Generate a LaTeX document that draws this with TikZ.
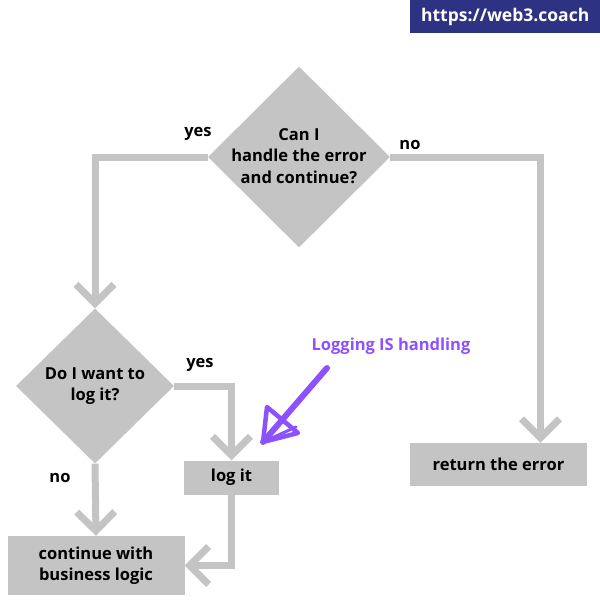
\documentclass[tikz,border=0pt]{standalone}
\usepackage{fontspec}
\setmainfont{Open Sans}
\usetikzlibrary{shapes.geometric,arrows.meta}
\definecolor{flowgray}{RGB}{196,196,196}
\definecolor{bannerblue}{RGB}{45,50,130}
\definecolor{notepurple}{RGB}{140,82,255}
\begin{document}
\begin{tikzpicture}[x=1pt,y=-1pt,
  every node/.style={font=\fontsize{16.5}{21.5}\selectfont\bfseries, text=black},
  decision/.style={diamond, fill=flowgray, inner sep=0pt},
  stepbox/.style={rectangle, fill=flowgray, inner sep=0pt, align=center},
  flow/.style={draw=flowgray, line width=7pt, line join=miter,
    -{Straight Barb[length=19pt,width=38pt,line width=7pt]}},
  lbl/.style={inner sep=0pt}
]
\useasboundingbox (0,0) rectangle (600,600);
% banner
\node[fill=bannerblue, minimum width=190pt, minimum height=33pt, inner sep=0pt,
  text=white, font=\fontsize{17.5}{20}\selectfont\bfseries, anchor=north west]
  (banner) at (410,0) {https://web3.coach};
% shapes
\node[decision, minimum width=182pt, minimum height=181pt,
  label={[align=center, yshift=1pt]center:Can I\\handle the error\\and continue?}]
  (d1) at (299,157) {};
\node[decision, minimum width=158pt, minimum height=155pt,
  label={[align=center, yshift=0pt]center:Do I want to\\log it?}]
  (d2) at (95,386) {};
\node[stepbox, minimum width=95pt, minimum height=34pt] (logit) at (231.5,477.5) {log it};
\node[stepbox, minimum width=177pt, minimum height=59pt] (cont) at (96,565.5) {continue with\\business logic};
\node[stepbox, minimum width=177pt, minimum height=43pt] (ret) at (498.5,464.5) {return the error};
% connectors
\draw[flow] (d1.west) -| (d2.north);
\draw[flow] (d1.east) -| ([xshift=42pt]ret.north);
\draw[flow] (d2.east) -| (logit.north);
\draw[flow] (d2.south) -- (cont.north);
\draw[flow] (logit.south) |- (cont.east);
% labels
\node[lbl] (yes1) at (198,134) {yes};
\node[lbl] (no1) at (410,145) {no};
\node[lbl] (yes2) at (200,365) {yes};
\node[lbl] (no2) at (60,478) {no};
% note
\node[lbl, text=notepurple] (note) at (391,346) {Logging IS handling};
\coordinate (ns) at (327,368);
\coordinate (ne) at (263,442);
\draw[notepurple, line width=6pt, line cap=round] (ns) -- (ne);
\draw[notepurple, line width=4.5pt, line join=round, line cap=round]
  (ne) -- (267,407) -- (298,433) -- cycle;
\draw[notepurple, line width=3pt, line cap=round] (ne) -- (296,427);
\end{tikzpicture}
\end{document}
